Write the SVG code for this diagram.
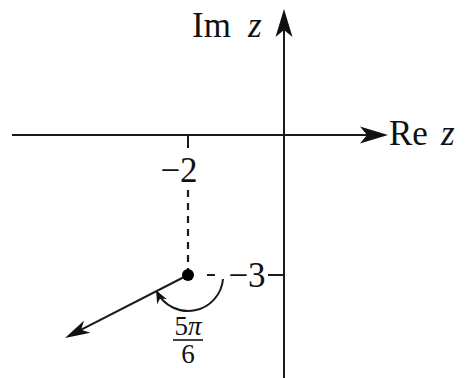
<svg xmlns="http://www.w3.org/2000/svg" width="469" height="378" viewBox="0 0 469 378">
<style>
.ax{stroke:#1a1a1a;stroke-width:2;fill:none}
.dash{stroke:#1a1a1a;stroke-width:2.2;fill:none;stroke-dasharray:7 6}
.t{font-family:"Liberation Serif","Times New Roman",serif;font-size:35px;fill:#111}
.f{font-family:"Liberation Serif","Times New Roman",serif;font-size:27px;fill:#111}
.i{font-style:italic}
</style>
<defs>
<marker id="big" viewBox="-31 -10 33 20" markerWidth="33" markerHeight="20" refX="-4" refY="0" orient="auto" markerUnits="userSpaceOnUse">
<path d="M0,0 L-28,-8.5 L-21,0 L-28,8.5 Z" fill="#111"/>
</marker>
<marker id="ray" viewBox="-28 -9 30 18" markerWidth="30" markerHeight="18" refX="-4" refY="0" orient="auto" markerUnits="userSpaceOnUse">
<path d="M0,0 L-25,-7 L-18,0 L-25,7 Z" fill="#111"/>
</marker>
<marker id="small" viewBox="-15 -7 17 14" markerWidth="17" markerHeight="14" refX="-2" refY="0" orient="auto" markerUnits="userSpaceOnUse">
<path d="M0,0 L-13,-5.5 L-9,0 L-13,5.5 Z" fill="#111"/>
</marker>
</defs>
<g id="connectors">
<line id="re-axis" class="ax" x1="12" y1="135" x2="384" y2="135" marker-end="url(#big)"/>
<line id="im-axis" class="ax" x1="284" y1="378" x2="284" y2="13" marker-end="url(#big)"/>
<line id="tick-2" class="ax" x1="188" y1="135" x2="188" y2="148"/>
<line id="tick-3" class="ax" x1="268" y1="275" x2="284" y2="275"/>
<line id="dash-v" class="dash" x1="188" y1="190" x2="188" y2="270"/>
<line id="dash-h" class="ax" x1="207" y1="275" x2="215" y2="275"/>
<line id="ray-line" class="ax" x1="188" y1="275" x2="68.6" y2="336.2" marker-end="url(#ray)"/>
<path id="angle-arc" class="ax" d="M223,279 A35,35 0 0 1 157,292" marker-end="url(#small)"/>
</g>
<g id="point">
<circle cx="188" cy="275" r="6" fill="#000"/>
</g>
<g id="label-im">
<text class="t" x="192" y="37">Im</text>
<text class="t i" x="248" y="37">z</text>
</g>
<g id="label-re">
<text class="t" x="389" y="145">Re</text>
<text class="t i" x="441" y="145">z</text>
</g>
<g id="label-m2">
<text class="t" x="179" y="182" text-anchor="middle">−2</text>
</g>
<g id="label-m3">
<text class="t" x="247" y="287" text-anchor="middle">−3</text>
</g>
<g id="label-angle">
<text class="f" x="188" y="335" text-anchor="middle">5<tspan class="i">π</tspan></text>
<line x1="173" y1="340" x2="203" y2="340" stroke="#111" stroke-width="1.6"/>
<text class="f" x="188" y="363" text-anchor="middle">6</text>
</g>
</svg>
